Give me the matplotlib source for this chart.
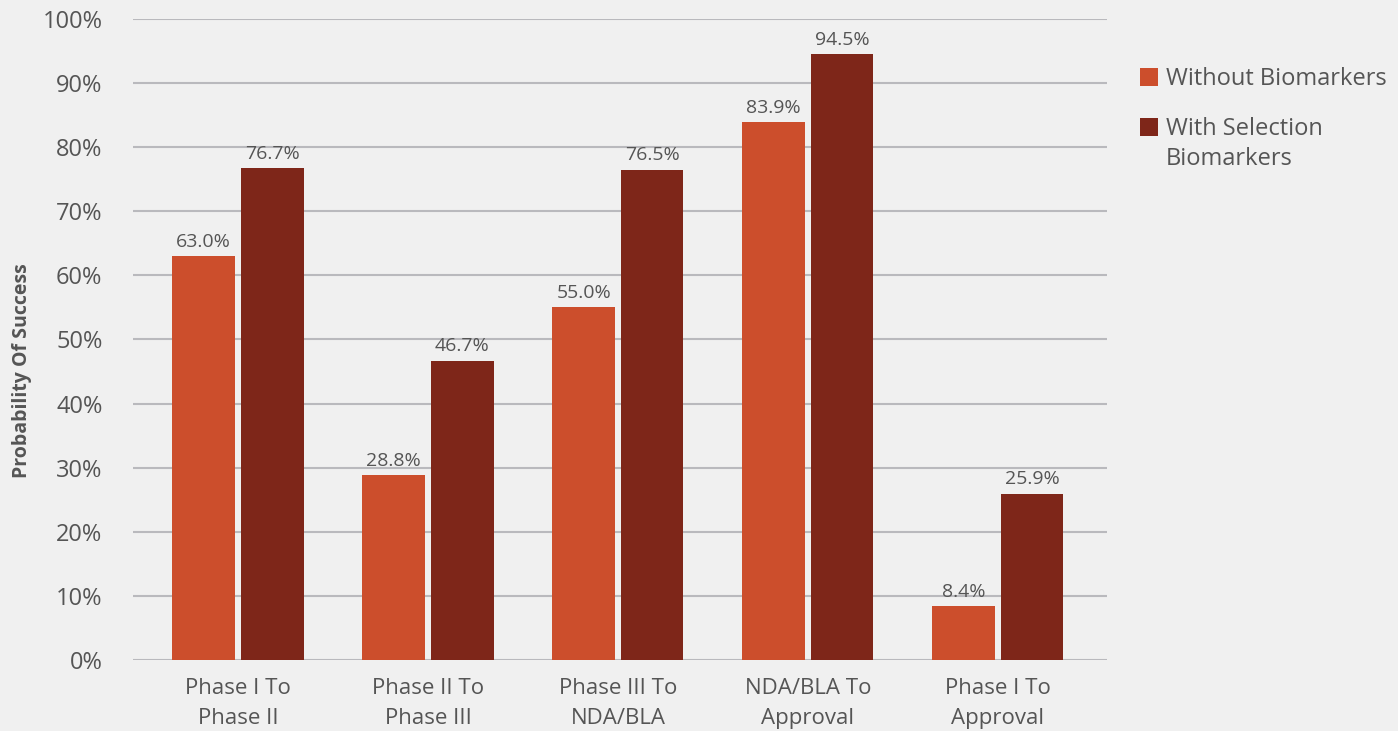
import matplotlib.pyplot as plt
from matplotlib.patches import Rectangle
import numpy as np

categories = ["Phase I To\nPhase II", "Phase II To\nPhase III", "Phase III To\nNDA/BLA",
              "NDA/BLA To\nApproval", "Phase I To\nApproval"]
without_biomarkers = [63.0, 28.8, 55.0, 83.9, 8.4]
with_selection = [76.7, 46.7, 76.5, 94.5, 25.9]
series_names = ["Without Biomarkers", "With Selection\nBiomarkers"]
yticks = [0, 10, 20, 30, 40, 50, 60, 70, 80, 90, 100]

BG = "#f0f0f0"
ORANGE = "#cc4e2c"
DARK = "#7e2619"
TEXT = "#555555"
GRID = "#b9b9bd"

plt.rcParams["font.family"] = ["Open Sans", "DejaVu Sans"]

W, H = 1398, 731
fig = plt.figure(figsize=(W / 100, H / 100), dpi=100, facecolor=BG)
ax = fig.add_axes([0.0951, 0.0971, 0.6967, 0.877], facecolor=BG)

x = np.arange(len(categories))
w = 0.33
off = 0.18
b1 = ax.bar(x - off, without_biomarkers, w, color=ORANGE, label=series_names[0], zorder=3)
b2 = ax.bar(x + off, with_selection, w, color=DARK, label=series_names[1], zorder=3)

for bars, vals in ((b1, without_biomarkers), (b2, with_selection)):
    for rect, v in zip(bars, vals):
        ax.annotate(f"{v:.1f}%", (rect.get_x() + rect.get_width() / 2, v),
                    xytext=(0, 4), textcoords="offset points",
                    ha="center", va="bottom", fontsize=14, color=TEXT)

ax.set_ylim(0, 100)
ax.set_xlim(-0.553, 4.574)
ax.set_yticks(yticks)
ax.set_yticklabels([f"{t}%" for t in yticks], fontsize=17, color=TEXT)
ax.set_xticks(x)
ax.set_xticklabels(categories, fontsize=16, color=TEXT, linespacing=1.55)
ax.tick_params(axis="both", length=0)
ax.tick_params(axis="y", pad=22)
ax.tick_params(axis="x", pad=13)
ax.yaxis.grid(True, color=GRID, linewidth=1.5, zorder=0)
for s in ax.spines.values():
    s.set_visible(False)

fig.text(22 / W, (H - 371) / H, "Probability Of Success", rotation=90,
         ha="center", va="center", fontsize=14, fontweight="bold", color=TEXT)

# Legend: square swatch aligned with the first line of each label
for bars, name, yc in ((b1, series_names[0], 77), (b2, series_names[1], 127)):
    fig.patches.append(Rectangle((1140 / W, (H - yc - 9) / H), 18 / W, 18 / H,
                                 transform=fig.transFigure, facecolor=bars[0].get_facecolor(),
                                 edgecolor="none"))
    fig.text(1166 / W, (H - yc + 1) / H, name.split("\n")[0], ha="left", va="center_baseline",
             fontsize=17, color=TEXT)
    for i, line in enumerate(name.split("\n")[1:], start=1):
        fig.text(1166 / W, (H - yc + 1 - 30 * i) / H, line, ha="left", va="center_baseline",
                 fontsize=17, color=TEXT)

fig.savefig("out.png", dpi=100, facecolor=BG)
